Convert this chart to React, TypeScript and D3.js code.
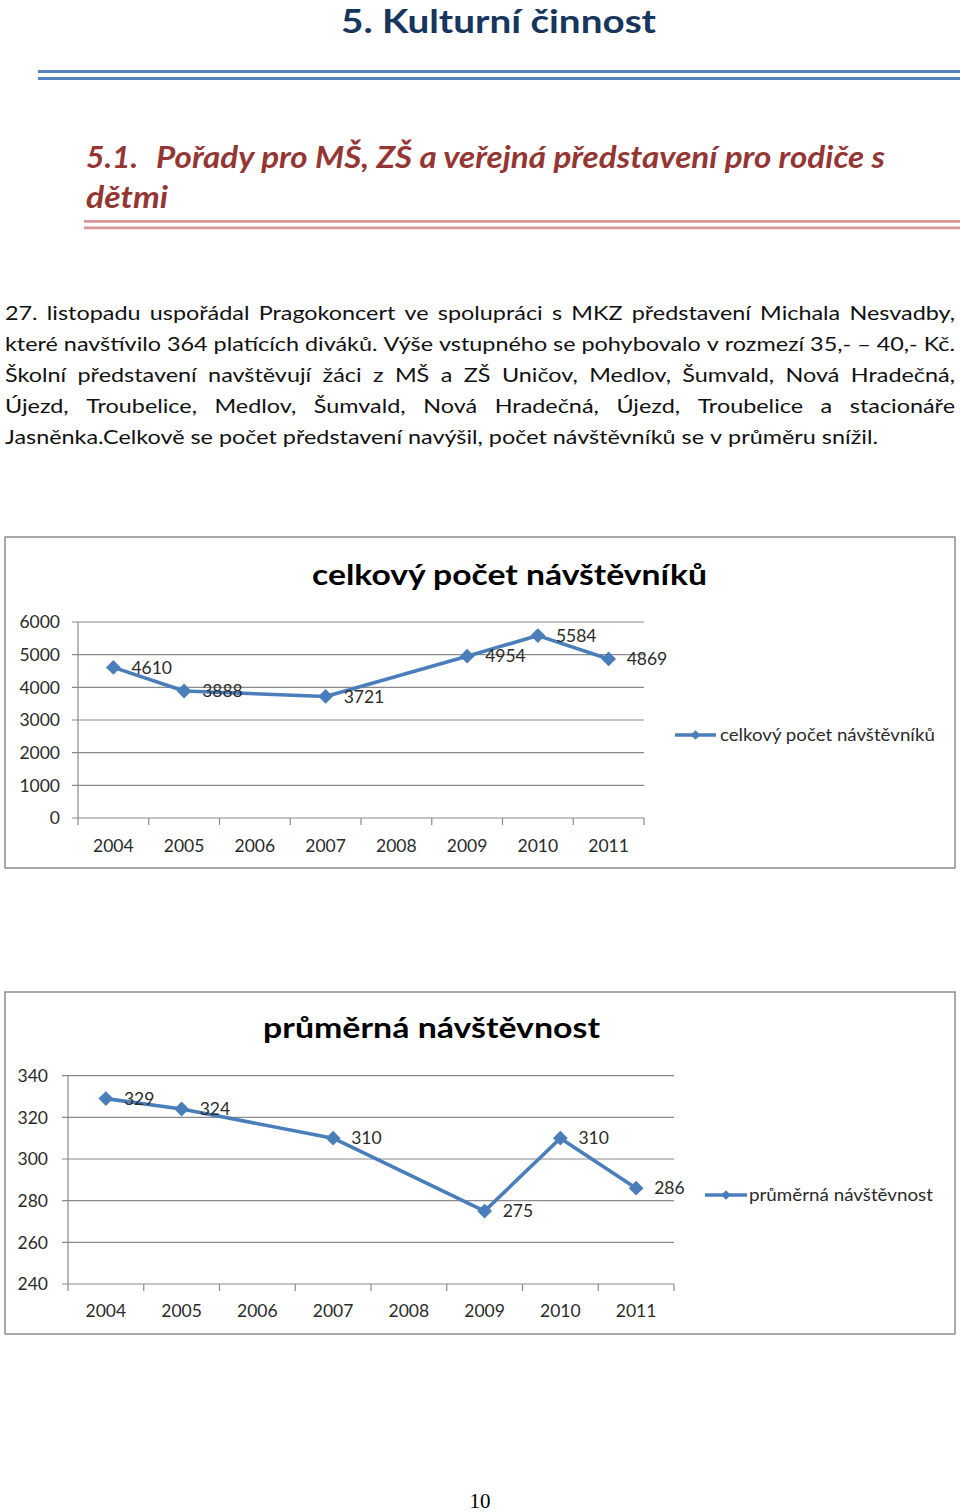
import React from 'react';
import * as d3 from 'd3';

// ---------- data ----------
const years = ['2004', '2005', '2006', '2007', '2008', '2009', '2010', '2011'];
const totalVisitors: (number | null)[] = [4610, 3888, null, 3721, null, 4954, 5584, 4869];
const avgAttendance: (number | null)[] = [329, 324, null, 310, null, 275, 310, 286];
const totalTicks = [0, 1000, 2000, 3000, 4000, 5000, 6000];
const avgTicks = [240, 260, 280, 300, 320, 340];

const pageTitle = '5. Kulturní činnost';
const sectionNum = '5.1.';
const sectionLine1 = 'Pořady pro MŠ, ZŠ a veřejná představení pro rodiče s';
const sectionLine2 = 'dětmi';
const bodyLines = [
  '27. listopadu uspořádal Pragokoncert ve spolupráci s MKZ představení Michala Nesvadby,',
  'které navštívilo 364 platících diváků. Výše vstupného se pohybovalo v rozmezí 35,- – 40,- Kč.',
  'Školní představení navštěvují žáci z MŠ a ZŠ Uničov, Medlov, Šumvald, Nová Hradečná,',
  'Újezd, Troubelice, Medlov, Šumvald, Nová Hradečná, Újezd, Troubelice a stacionáře',
  'Jasněnka.Celkově se počet představení navýšil, počet návštěvníků se v průměru snížil.',
];

const BLUE = '#4A7EBB';
const GRID = '#8a8a8a';
const TXT = '#2b2b2b';
const FONT = 'Lato, "Open Sans", sans-serif';

let ctx: CanvasRenderingContext2D | null = null;
function measure(text: string, font: string): number {
  if (!ctx) ctx = document.createElement('canvas').getContext('2d');
  if (!ctx) return text.length * 9;
  ctx.font = font;
  return ctx.measureText(text).width;
}

function Body() {
  const size = 20;
  const font = `${size}px Lato`;
  const left = 5, right = 955;
  const lastTarget = 873;
  const sx = lastTarget / measure(bodyLines[4], font);
  const baselines = [320, 351, 382, 413, 444];
  const items: JSX.Element[] = [];
  bodyLines.forEach((line, li) => {
    const words = line.split(' ');
    const widths = words.map((w) => measure(w, font) * sx);
    const justified = li < bodyLines.length - 1;
    const sum = d3.sum(widths);
    const gap = justified ? (right - left - sum) / (words.length - 1) : measure(' ', font) * sx;
    let x = left;
    words.forEach((w, wi) => {
      items.push(
        <text key={`${li}-${wi}`} x={x} y={baselines[li]} fontFamily={FONT} fontSize={size} fill="#111"
          textLength={widths[wi]} lengthAdjust="spacingAndGlyphs">{w}</text>
      );
      x += widths[wi] + gap;
    });
  });
  return <g>{items}</g>;
}

type ChartProps = {
  top: number; bottom: number; title: string; titleX: number; titleW: number; titleY: number;
  values: (number | null)[]; ticks: number[]; plotL: number; plotR: number; yTop: number; yBot: number;
  labelRight: number; xLabelY: number; legendX1: number; legendX2: number; legendY: number; legendText: string;
  legendTextX: number; legendTextW: number;
};

function LineChart(p: ChartProps) {
  const x = d3.scaleBand<string>().domain(years).range([p.plotL, p.plotR]);
  const y = d3.scaleLinear().domain([p.ticks[0], p.ticks[p.ticks.length - 1]]).range([p.yBot, p.yTop]);
  const cx = (yr: string) => (x(yr) as number) + x.bandwidth() / 2;
  const pts = years.map((yr, i) => ({ yr, v: p.values[i] })).filter((d) => d.v != null) as { yr: string; v: number }[];
  const line = d3.line<{ yr: string; v: number }>().x((d) => cx(d.yr)).y((d) => y(d.v));
  const diamond = d3.symbol().type(d3.symbolSquare).size(110)();
  const legendDiamond = d3.symbol().type(d3.symbolSquare).size(45)();
  const boundaries = [...years.map((yr) => x(yr) as number), p.plotR];
  return (
    <g>
      <rect x={5} y={p.top} width={950} height={p.bottom - p.top} fill="#fff" stroke="#8c8c8c" strokeWidth={1.5} />
      <text x={p.titleX} y={p.titleY} fontFamily={FONT} fontWeight="bold" fontSize={29} fill="#000"
        textLength={p.titleW} lengthAdjust="spacingAndGlyphs">{p.title}</text>
      {p.ticks.map((t) => (
        <g key={t}>
          <line x1={p.plotL - 6} x2={p.plotR} y1={y(t)} y2={y(t)} stroke={GRID} strokeWidth={1.2} />
          <text x={p.labelRight} y={y(t)} dy="0.36em" textAnchor="end" fontFamily={FONT} fontSize={17.5} fill={TXT}>{t}</text>
        </g>
      ))}
      <line x1={p.plotL} x2={p.plotL} y1={p.yTop} y2={p.yBot} stroke={GRID} strokeWidth={1.2} />
      {boundaries.map((b, i) => (
        <line key={i} x1={b} x2={b} y1={p.yBot} y2={p.yBot + 7} stroke={GRID} strokeWidth={1.2} />
      ))}
      {years.map((yr) => (
        <text key={yr} x={cx(yr)} y={p.xLabelY} textAnchor="middle" fontFamily={FONT} fontSize={17.5} fill={TXT}>{yr}</text>
      ))}
      <path d={line(pts) || ''} fill="none" stroke={BLUE} strokeWidth={3.6} strokeLinejoin="round" />
      {pts.map((d) => (
        <path key={d.yr} d={diamond || ''} transform={`translate(${cx(d.yr)},${y(d.v)}) rotate(45)`} fill={BLUE} />
      ))}
      {pts.map((d) => (
        <text key={'l' + d.yr} x={cx(d.yr) + 18} y={y(d.v)} dy="0.36em" fontFamily={FONT} fontSize={17.5} fill={TXT}>{d.v}</text>
      ))}
      <line x1={p.legendX1} x2={p.legendX2} y1={p.legendY} y2={p.legendY} stroke={BLUE} strokeWidth={3.4} />
      <path d={legendDiamond || ''} transform={`translate(${(p.legendX1 + p.legendX2) / 2},${p.legendY}) rotate(45)`} fill={BLUE} />
      <text x={p.legendTextX} y={p.legendY} dy="0.36em" fontFamily={FONT} fontSize={17.5} fill={TXT}
        textLength={p.legendTextW} lengthAdjust="spacingAndGlyphs">{p.legendText}</text>
    </g>
  );
}

export default function App() {
  return (
    <svg width={960} height={1512} viewBox="0 0 960 1512"
      style={{ position: 'absolute', left: 0, top: 0, background: '#fff' }}>
      <rect x={0} y={0} width={960} height={1512} fill="#fff" />
      <text x={341} y={33} fontFamily={FONT} fontWeight="bold" fontSize={32} fill="#17365D"
        textLength={315} lengthAdjust="spacingAndGlyphs">{pageTitle}</text>
      <rect x={38} y={70} width={922} height={3} fill="#5583BC" />
      <rect x={38} y={77} width={922} height={3} fill="#5583BC" />

      <text x={86} y={168} fontFamily={FONT} fontWeight="bold" fontStyle="italic" fontSize={30} fill="#943634"
        textLength={52} lengthAdjust="spacingAndGlyphs">{sectionNum}</text>
      <text x={156} y={168} fontFamily={FONT} fontWeight="bold" fontStyle="italic" fontSize={30} fill="#943634"
        textLength={729} lengthAdjust="spacingAndGlyphs">{sectionLine1}</text>
      <text x={86} y={208} fontFamily={FONT} fontWeight="bold" fontStyle="italic" fontSize={30} fill="#943634"
        textLength={82} lengthAdjust="spacingAndGlyphs">{sectionLine2}</text>
      <rect x={84} y={220} width={876} height={2.7} fill="#D99594" />
      <rect x={84} y={226.5} width={876} height={2.7} fill="#D99594" />

      <Body />

      <LineChart top={537} bottom={868} title="celkový počet návštěvníků" titleX={312} titleW={395} titleY={585}
        values={totalVisitors} ticks={totalTicks} plotL={78} plotR={644} yTop={622} yBot={818}
        labelRight={60} xLabelY={852} legendX1={675} legendX2={716} legendY={735}
        legendText="celkový počet návštěvníků" legendTextX={720} legendTextW={215} />

      <LineChart top={992} bottom={1334} title="průměrná návštěvnost" titleX={263} titleW={337} titleY={1038}
        values={avgAttendance} ticks={avgTicks} plotL={68} plotR={674} yTop={1075.7} yBot={1284}
        labelRight={48} xLabelY={1317} legendX1={705} legendX2={747} legendY={1195}
        legendText="průměrná návštěvnost" legendTextX={749} legendTextW={184} />

      <text x={480} y={1508} textAnchor="middle" fontFamily='"Liberation Serif", serif' fontSize={21} fill="#000">10</text>
    </svg>
  );
}
